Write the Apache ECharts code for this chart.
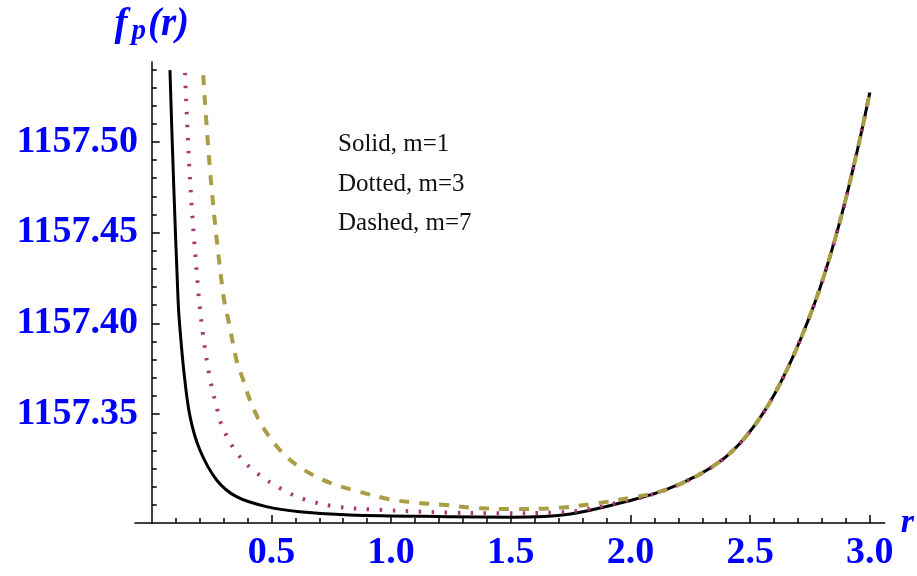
<!DOCTYPE html>
<html><head><meta charset="utf-8">
<script src="https://cdn.jsdelivr.net/npm/echarts@6/dist/echarts.min.js"></script>
<style>html,body{margin:0;padding:0;background:#fff}#c{width:917px;height:576px}</style>
</head><body><div id="c"></div>
<script>
// Solid, m=1
const rSolid = [0.076, 0.091, 0.110, 0.116, 0.135, 0.160, 0.201, 0.271, 0.354, 0.479, 0.618, 0.826, 1.243, 1.5, 1.75, 2.007];
const fSolid = [1157.5395, 1157.4788, 1157.4128, 1157.4000, 1157.3725, 1157.3486, 1157.3302, 1157.3137, 1157.3045, 1157.2990, 1157.2962, 1157.2944, 1157.2935, 1157.2932, 1157.2950, 1157.3027];
// Dotted, m=3
const rDotted = [0.139, 0.160, 0.194, 0.215, 0.243, 0.271, 0.292, 0.347, 0.423, 0.548, 0.646, 0.771, 0.965, 1.243, 1.45, 1.70, 2.007];
const fDotted = [1157.5380, 1157.4789, 1157.4183, 1157.3930, 1157.3697, 1157.3540, 1157.3440, 1157.3302, 1157.3192, 1157.3082, 1157.3027, 1157.2990, 1157.2972, 1157.2957, 1157.2954, 1157.2958, 1157.3030];
// Dashed, m=7
const rDashed = [0.215, 0.247, 0.298, 0.326, 0.354, 0.382, 0.410, 0.444, 0.486, 0.542, 0.604, 0.673, 0.750, 0.840, 0.993, 1.104, 1.229, 1.340, 1.507, 1.673, 1.840, 2.007];
const fDashed = [1157.5367, 1157.4789, 1157.4165, 1157.3981, 1157.3798, 1157.3688, 1157.3578, 1157.3477, 1157.3385, 1157.3293, 1157.3220, 1157.3165, 1157.3119, 1157.3082, 1157.3031, 1157.3012, 1157.2999, 1157.2984, 1157.2977, 1157.2981, 1157.3005, 1157.3040];
// common rising branch (all three curves coincide)
const rTail = [2.146, 2.285, 2.382, 2.451, 2.507, 2.5625, 2.604, 2.66, 2.715, 2.771, 2.8125, 2.854, 2.896, 2.93, 2.965, 3.0];
const fTail = [1157.3082, 1157.3165, 1157.3247, 1157.3330, 1157.3417, 1157.3522, 1157.3615, 1157.3761, 1157.3926, 1157.4116, 1157.4278, 1157.4461, 1157.4667, 1157.4851, 1157.5054, 1157.5271];

const yMajorTicks = [1157.35, 1157.40, 1157.45, 1157.50];
const yMinorTicks = [1157.30, 1157.31, 1157.32, 1157.33, 1157.34, 1157.36, 1157.37, 1157.38, 1157.39, 1157.41, 1157.42, 1157.43, 1157.44, 1157.46, 1157.47, 1157.48, 1157.49, 1157.51, 1157.52, 1157.53, 1157.54];
const xMajorTicks = [0.5, 1.0, 1.5, 2.0, 2.5, 3.0];
const xMinorTicks = [0.1, 0.2, 0.3, 0.4, 0.6, 0.7, 0.8, 0.9, 1.1, 1.2, 1.3, 1.4, 1.6, 1.7, 1.8, 1.9, 2.1, 2.2, 2.3, 2.4, 2.6, 2.7, 2.8, 2.9];
const legendTexts = ['Solid, m=1', 'Dotted, m=3', 'Dashed, m=7'];

const pts = (rs, fs) => rs.map((r, i) => [r, fs[i]]);
const SERIF = '"Liberation Serif", "Times New Roman", serif';
const BLUE = '#0000ff';
const X_MIN = -0.07, X_MAX = 3.0625, Y_MIN = 1157.29, Y_MAX = 1157.544;

const chart = echarts.init(document.getElementById('c'), null, {renderer: 'canvas'});
const labelStyle = {color: BLUE, fontFamily: SERIF, fontWeight: 'bold', fontSize: 38};
const tickLine = {color: '#000', width: 1.5};
const nameFont = {color: BLUE, fontFamily: SERIF, fontStyle: 'italic', fontWeight: 'bold'};

chart.setOption({
  animation: false,
  backgroundColor: '#fff',
  grid: {left: 135, top: 62, width: 752, height: 461, containLabel: false},
  xAxis: [
    {
      type: 'value', min: X_MIN, max: X_MAX, position: 'bottom',
      splitLine: {show: false},
      axisLine: {onZero: false, lineStyle: {color: '#000', width: 1.5}},
      axisTick: {inside: true, length: 8, customValues: xMajorTicks, lineStyle: tickLine},
      axisLabel: Object.assign({customValues: xMajorTicks, formatter: v => v.toFixed(1), margin: 11}, labelStyle),
      name: 'r', nameLocation: 'end', nameGap: 16,
      nameTextStyle: Object.assign({fontSize: 34, align: 'left', verticalAlign: 'middle', padding: [20, 0, 0, 0]}, nameFont)
    },
    {
      type: 'value', min: X_MIN, max: X_MAX, position: 'bottom',
      splitLine: {show: false},
      axisLine: {show: false, onZero: false},
      axisTick: {inside: true, length: 5, customValues: xMinorTicks, lineStyle: tickLine},
      axisLabel: {show: false}
    }
  ],
  yAxis: [
    {
      type: 'value', min: Y_MIN, max: Y_MAX, position: 'left',
      splitLine: {show: false},
      axisLine: {onZero: true, lineStyle: {color: '#000', width: 1.5}},
      axisTick: {inside: true, length: 8, customValues: yMajorTicks, lineStyle: tickLine},
      axisLabel: Object.assign({customValues: yMajorTicks, formatter: v => v.toFixed(2), margin: -3}, labelStyle),
      name: '{f|f}{p|p}{r|(r)}', nameLocation: 'end', nameGap: 16,
      nameTextStyle: Object.assign({
        fontSize: 38,
        rich: {
          f: Object.assign({fontSize: 39, lineHeight: 42, verticalAlign: 'middle', padding: [0, 4, 0, 0]}, nameFont),
          p: Object.assign({fontSize: 29, lineHeight: 32, verticalAlign: 'bottom', padding: [0, 2, 0, 0]}, nameFont),
          r: Object.assign({fontSize: 39, lineHeight: 42, verticalAlign: 'middle'}, nameFont)
        }
      }, nameFont)
    },
    {
      type: 'value', min: Y_MIN, max: Y_MAX, position: 'left', offset: 0,
      splitLine: {show: false},
      axisLine: {show: false, onZero: true},
      axisTick: {inside: true, length: 5, customValues: yMinorTicks, lineStyle: tickLine},
      axisLabel: {show: false}
    }
  ],
  series: [
    {
      name: legendTexts[0], type: 'line', data: pts(rSolid.concat(rTail), fSolid.concat(fTail)),
      showSymbol: false, smooth: 0.35, clip: true, z: 2,
      lineStyle: {color: '#000000', width: 3}
    },
    {
      name: legendTexts[1], type: 'line', data: pts(rDotted.concat(rTail), fDotted.concat(fTail)),
      showSymbol: false, smooth: 0.35, clip: true, z: 3,
      lineStyle: {color: '#a8387a', width: 4, type: [2.5, 10.5]}
    },
    {
      name: legendTexts[2], type: 'line', data: pts(rDashed.concat(rTail), fDashed.concat(fTail)),
      showSymbol: false, smooth: 0.35, clip: true, z: 4,
      lineStyle: {color: '#a99d45', width: 4, type: [10, 10]}
    }
  ],
  graphic: legendTexts.map((t, i) => ({
    type: 'text', left: 338, top: 132 + i * 39.5,
    style: {text: t, font: '25px ' + SERIF, fill: '#111'}
  }))
});
</script>
</body></html>
